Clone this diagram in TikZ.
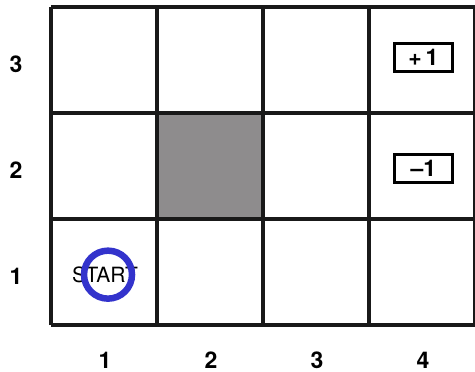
\documentclass[tikz,border=0pt]{standalone}
\usepackage{fontspec}
\setmainfont{TeX Gyre Heros}
\usepackage{tikz}
\usepackage{xcolor}
\definecolor{startblue}{HTML}{3333CC}
\definecolor{wallgray}{HTML}{8E8C8D}

\begin{document}
\begin{tikzpicture}[x=106pt, y=106pt, line width=3.2pt,
  lbl/.style={inner sep=0pt, font=\bfseries\fontsize{23}{27}\selectfont},
  reward/.style={draw, line width=3pt, minimum width=58pt, minimum height=28pt, inner sep=0pt, font=\bfseries\fontsize{23}{27}\selectfont}]
\useasboundingbox (-0.481,-0.443) rectangle (4,3.066);
\fill[wallgray] (1,1) rectangle (2,2);
\draw[color=black!90, step=106pt] (0,0) grid (4,3);
\foreach \r in {1,2,3} \node[lbl] (row\r) at (-0.33,\r-0.54) {\r};
\foreach \c in {1,2,3,4} \node[lbl] (col\c) at (\c-0.49,-0.33) {\c};
\node[reward] (plus) at (3.514,2.524) {+\,1};
\node[reward] (minus) at (3.514,1.476) {--1};
\node[font=\fontsize{21}{25}\selectfont] (start) at (0.51,0.475) {START};
\draw[startblue, line width=6.5pt] (0.538,0.475) circle (24pt);
\end{tikzpicture}
\end{document}
